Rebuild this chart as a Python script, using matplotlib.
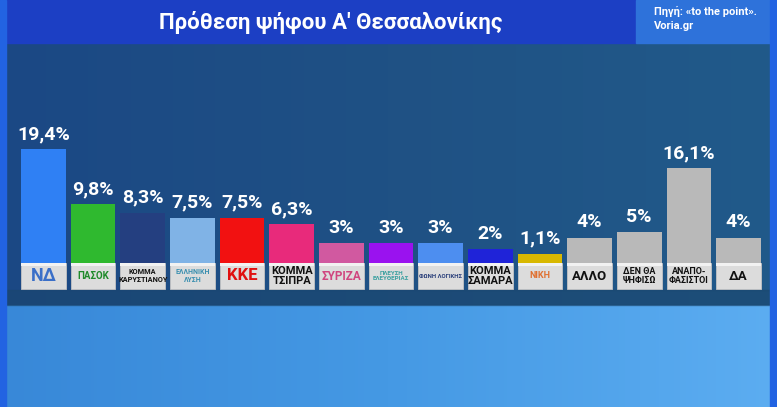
import numpy as np
import matplotlib.pyplot as plt
from matplotlib.patches import Rectangle
from matplotlib.colors import LinearSegmentedColormap

plt.rcParams['font.family'] = ['Roboto', 'DejaVu Sans']

# data
parties = ['ΝΔ', 'ΠΑΣΟΚ', 'ΚΟΜΜΑ\nΚΑΡΥΣΤΙΑΝΟΥ', 'ΕΛΛΗΝΙΚΗ\nΛΥΣΗ', 'ΚΚΕ', 'ΚΟΜΜΑ\nΤΣΙΠΡΑ',
           'ΣΥΡΙΖΑ', 'ΠΛΕΥΣΗ\nΕΛΕΥΘΕΡΙΑΣ', 'ΦΩΝΗ ΛΟΓΙΚΗΣ', 'ΚΟΜΜΑ\nΣΑΜΑΡΑ', 'ΝΙΚΗ',
           'ΑΛΛΟ', 'ΔΕΝ ΘΑ\nΨΗΦΙΣΩ', 'ΑΝΑΠΟ-\nΦΑΣΙΣΤΟΙ', 'ΔΑ']
values = [19.4, 9.8, 8.3, 7.5, 7.5, 6.3, 3, 3, 3, 2, 1.1, 4, 5, 16.1, 4]
value_labels = ['19,4%', '9,8%', '8,3%', '7,5%', '7,5%', '6,3%', '3%', '3%', '3%',
                '2%', '1,1%', '4%', '5%', '16,1%', '4%']
bar_colors = ['#2f80f4', '#2fb92f', '#243f80', '#80b3e6', '#f21111', '#e82a7b',
              '#d159a0', '#9a12ef', '#4d8ef0', '#1f23d8', '#d8b800',
              '#b9b9b9', '#b9b9b9', '#b9b9b9', '#b9b9b9']
label_colors = ['#3a6fc8', '#1f8a2a', '#111111', '#3a8fb0', '#e01010', '#111111',
                '#d0457f', '#3aa0a0', '#2a3f7a', '#111111', '#e07030',
                '#111111', '#111111', '#111111', '#111111']
label_sizes = [13, 7, 5.3, 5, 12, 8, 8.5, 4.5, 4.3, 8, 6.5, 9.5, 6.5, 6.5, 9.5]

title = "Πρόθεση ψήφου Α' Θεσσαλονίκης"
source = "Πηγή: «to the point».\nVoria.gr"

W, H = 777, 407
fig = plt.figure(figsize=(W / 100, H / 100), dpi=100)

# background (pixel coordinates)
bg = fig.add_axes([0, 0, 1, 1])
bg.set_xlim(0, W)
bg.set_ylim(H, 0)
bg.axis('off')

panel = LinearSegmentedColormap.from_list('panel', ['#1b4885', '#1f5184', '#215a8a'])
bg.imshow(np.linspace(0, 1, 256).reshape(1, -1), cmap=panel, aspect='auto',
          extent=(0, W, 305, 43), zorder=0)
lower = LinearSegmentedColormap.from_list('lower', ['#3888d8', '#4599e4', '#5cadf1'])
bg.imshow(np.linspace(0, 1, 256).reshape(1, -1), cmap=lower, aspect='auto',
          extent=(0, W, H, 305), zorder=0)
bg.add_patch(Rectangle((0, 290), W, 15, color='#1a466e', alpha=0.6, zorder=1))
bg.add_patch(Rectangle((0, 0), 636, 43, color='#1c3fc4', zorder=2))
bg.add_patch(Rectangle((636, 0), 134, 43, color='#2e72da', zorder=2))
bg.add_patch(Rectangle((0, 0), 6, H, color='#2263e2', zorder=2))
bg.add_patch(Rectangle((770, 0), 7, H, color='#2263e2', zorder=2))

bg.text(331, 22, title, color='white', fontsize=16, fontweight='bold',
        ha='center', va='center', zorder=3)
bg.text(654, 18, source, color='white', fontsize=8, fontweight='bold',
        ha='left', va='center', linespacing=1.5, zorder=3)

# bars: zero at pixel y 260.5, 5.73 px per percent
zero_px, scale = 260.5, 5.73
x0, x1 = 18.7, 763.3
ytop, ybot = 100, 300
ax = fig.add_axes([x0 / W, (H - ybot) / H, (x1 - x0) / W, (ybot - ytop) / H])
ax.patch.set_alpha(0)
ax.set_xlim(-0.5, len(values) - 0.5)
ax.set_ylim(-(ybot - zero_px) / scale, (zero_px - ytop) / scale)
ax.axis('off')

box_top = -(263 - zero_px) / scale
box_bottom = -(289 - zero_px) / scale

x = np.arange(len(values))
ax.bar(x, np.array(values) - box_top, bottom=box_top, width=0.9, color=bar_colors, zorder=2)

for xi, v, vl, name, lc, ls in zip(x, values, value_labels, parties, label_colors, label_sizes):
    ax.text(xi, v + 1.1, vl, color='white', fontsize=14, fontweight='bold',
            ha='center', va='bottom', zorder=4)
    ax.add_patch(Rectangle((xi - 0.45, box_bottom), 0.9, box_top - box_bottom,
                           facecolor='#dcdcdc', edgecolor='#c4c4c4', lw=0.6, zorder=3))
    ax.add_patch(Rectangle((xi - 0.45, box_top - 0.6), 0.9, 0.6,
                           facecolor='#f2f2f2', edgecolor='none', zorder=3))
    ax.text(xi, (box_bottom + box_top) / 2, name, color=lc, fontsize=ls,
            fontweight='bold', ha='center', va='center', linespacing=1.0, zorder=4)

fig.savefig('out.png', dpi=100)
